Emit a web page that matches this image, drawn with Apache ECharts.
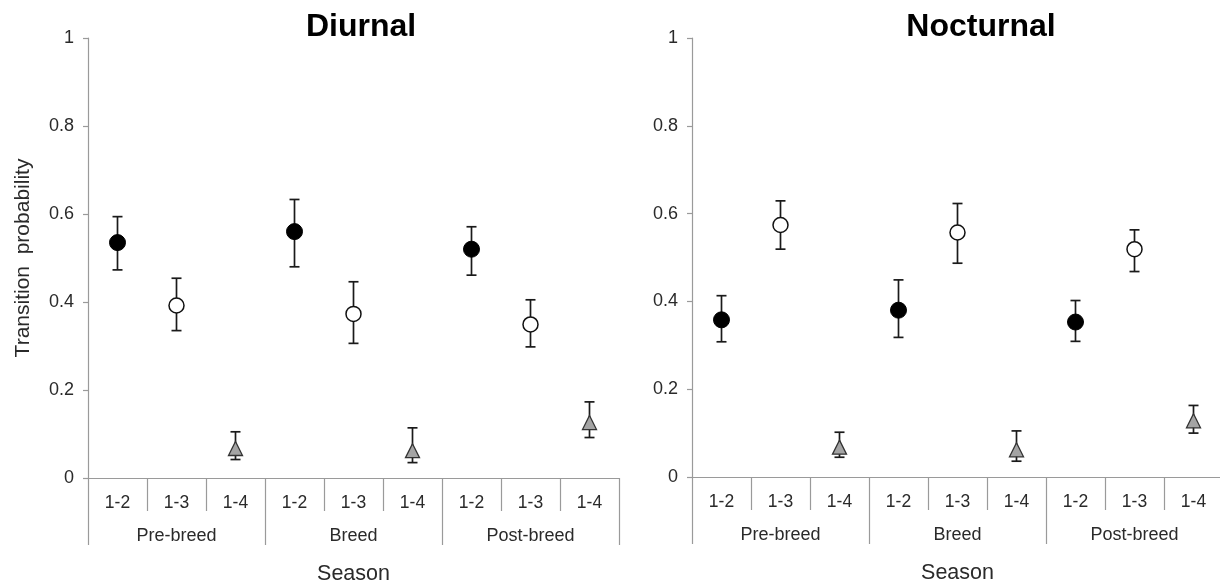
<!DOCTYPE html>
<html lang="en">
<head>
    <meta charset="UTF-8">
    <title>Transition probability - Diurnal / Nocturnal</title>
    <script src="https://cdn.jsdelivr.net/npm/echarts/dist/echarts.min.js"></script>
    <style>
        html, body { margin: 0; padding: 0; background: #fff; }
        #chart-container { width: 1220px; height: 585px; }
    </style>
</head>
<body>
    <div id="chart-container"></div>
    <script>
        var categories = ['1-2', '1-3', '1-4', '1-2', '1-3', '1-4', '1-2', '1-3', '1-4'];
        var seasons = ['Pre-breed', 'Breed', 'Post-breed'];
        var transitions = ['1-2', '1-3', '1-4'];

        var diurnalMean = [0.535, 0.392, 0.067, 0.56, 0.373, 0.062, 0.52, 0.349, 0.126];
        var diurnalLow = [0.473, 0.335, 0.042, 0.48, 0.306, 0.035, 0.461, 0.298, 0.092];
        var diurnalHigh = [0.594, 0.454, 0.105, 0.633, 0.446, 0.114, 0.571, 0.405, 0.173];

        var nocturnalMean = [0.358, 0.574, 0.068, 0.38, 0.557, 0.062, 0.353, 0.519, 0.128];
        var nocturnalLow = [0.308, 0.519, 0.045, 0.318, 0.487, 0.036, 0.309, 0.468, 0.1];
        var nocturnalHigh = [0.413, 0.629, 0.102, 0.449, 0.623, 0.105, 0.402, 0.563, 0.163];

        var FONT = '"Liberation Sans", Arial, sans-serif';
        var axisGrey = '#9a9a9a';
        var textCol = '#2a2a2a';

        // marker look per transition type
        var markerStyle = {
            '1-2': { symbol: 'circle', symbolSize: 16, itemStyle: { color: '#000', borderColor: '#000', borderWidth: 1, opacity: 1 } },
            '1-3': { symbol: 'circle', symbolSize: 15, itemStyle: { color: '#fff', borderColor: '#111', borderWidth: 1.5, opacity: 1 } },
            '1-4': { symbol: 'triangle', symbolSize: 14, itemStyle: { color: '#a4a4a4', borderColor: '#333', borderWidth: 1.3, opacity: 1 } }
        };

        function innerAxis(grid) {
            return {
                type: 'category', gridIndex: grid, data: categories, position: 'bottom',
                axisLine: { lineStyle: { color: axisGrey, width: 1.2 } },
                axisTick: { show: true, length: 33, interval: 0, lineStyle: { color: axisGrey, width: 1.2 } },
                axisLabel: { interval: 0, margin: 16, fontSize: 17.5, color: textCol, fontFamily: FONT },
                splitLine: { show: false }
            };
        }

        function groupAxis(grid) {
            return {
                type: 'category', gridIndex: grid, data: seasons, position: 'bottom', offset: 33,
                axisLine: { show: false },
                axisTick: { show: true, length: 34, interval: 0, lineStyle: { color: axisGrey, width: 1.2 } },
                axisLabel: { interval: 0, margin: 16, fontSize: 18, color: textCol, fontFamily: FONT },
                name: 'Season', nameLocation: 'middle', nameGap: 52,
                nameTextStyle: { fontSize: 21.5, color: textCol, fontFamily: FONT },
                splitLine: { show: false }
            };
        }

        function valueAxis(grid, withName) {
            var ax = {
                type: 'value', gridIndex: grid, min: 0, max: 1, interval: 0.2,
                axisLine: { show: true, lineStyle: { color: axisGrey, width: 1.2 } },
                axisTick: { show: true, length: 5, lineStyle: { color: axisGrey, width: 1.2 } },
                axisLabel: { margin: 14, fontSize: 18, color: textCol, fontFamily: FONT },
                splitLine: { show: false }
            };
            if (withName) {
                ax.name = 'Transition  probability';
                ax.nameLocation = 'middle';
                ax.nameGap = 54;
                ax.nameTextStyle = { fontSize: 21, color: textCol, fontFamily: FONT };
            }
            return ax;
        }

        function errorSeries(xIdx, yIdx, low, high) {
            return {
                type: 'custom', xAxisIndex: xIdx, yAxisIndex: yIdx, z: 2,
                data: low.map(function (l, i) { return [i, l, high[i]]; }),
                encode: { x: 0, y: [1, 2] },
                renderItem: function (params, api) {
                    var x = api.value(0);
                    var lo = api.coord([x, api.value(1)]);
                    var hi = api.coord([x, api.value(2)]);
                    var w = 5;
                    var st = { stroke: '#1a1a1a', lineWidth: 1.7 };
                    return {
                        type: 'group',
                        children: [
                            { type: 'line', shape: { x1: lo[0], y1: lo[1], x2: hi[0], y2: hi[1] }, style: st },
                            { type: 'line', shape: { x1: lo[0] - w, y1: lo[1], x2: lo[0] + w, y2: lo[1] }, style: st },
                            { type: 'line', shape: { x1: hi[0] - w, y1: hi[1], x2: hi[0] + w, y2: hi[1] }, style: st }
                        ]
                    };
                }
            };
        }

        function pointSeries(xIdx, yIdx, mean) {
            return transitions.map(function (t) {
                var data = [];
                categories.forEach(function (c, i) {
                    if (c === t) data.push([i, mean[i]]);
                });
                var m = markerStyle[t];
                return {
                    type: 'scatter', xAxisIndex: xIdx, yAxisIndex: yIdx, z: 5,
                    symbol: m.symbol, symbolSize: m.symbolSize, itemStyle: m.itemStyle,
                    data: data
                };
            });
        }

        var chart = echarts.init(document.getElementById('chart-container'));
        var option = {
            animation: false,
            textStyle: { fontFamily: FONT },
            title: [
                { text: 'Diurnal', left: 356, top: 6, textAlign: 'center',
                  textStyle: { fontSize: 32, fontWeight: 'bold', color: '#000', fontFamily: FONT } },
                { text: 'Nocturnal', left: 976, top: 6, textAlign: 'center',
                  textStyle: { fontSize: 32, fontWeight: 'bold', color: '#000', fontFamily: FONT } }
            ],
            grid: [
                { left: 88, top: 38, width: 531, height: 440, containLabel: false, outerBoundsMode: 'none' },
                { left: 692, top: 38, width: 531, height: 439, containLabel: false, outerBoundsMode: 'none' }
            ],
            xAxis: [innerAxis(0), groupAxis(0), innerAxis(1), groupAxis(1)],
            yAxis: [valueAxis(0, true), valueAxis(1, false)],
            series: [].concat(
                [errorSeries(0, 0, diurnalLow, diurnalHigh)],
                pointSeries(0, 0, diurnalMean),
                [errorSeries(2, 1, nocturnalLow, nocturnalHigh)],
                pointSeries(2, 1, nocturnalMean)
            )
        };
        chart.setOption(option);
    </script>
</body>
</html>
